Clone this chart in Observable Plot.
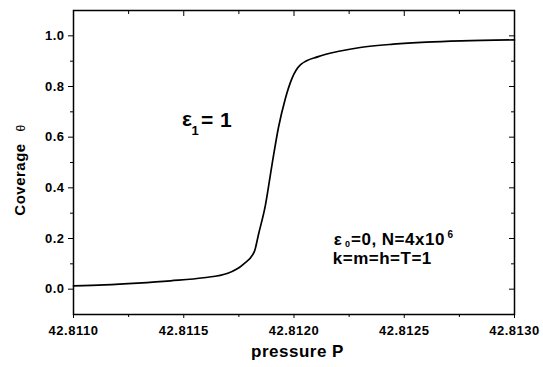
<!DOCTYPE html>
<html>
<head>
<meta charset="utf-8">
<script src="https://cdn.jsdelivr.net/npm/d3@7"></script>
<script src="https://cdn.jsdelivr.net/npm/@observablehq/plot@0.6"></script>
<style>
  html, body { margin: 0; padding: 0; background: #fff; }
  #chart svg { display: block; }
  #chart svg text { letter-spacing: 0.5px; }
</style>
</head>
<body>
<div id="chart"></div>
<script>
// Data
const pressure = [42.81100, 42.81114, 42.81129, 42.81144, 42.81159, 42.81170, 42.81177, 42.81182, 42.81184, 42.81187, 42.81190, 42.81193, 42.81196, 42.81199, 42.81203, 42.81211, 42.81221, 42.81230, 42.81245, 42.81260, 42.81276, 42.81300];
const coverage = [0.013, 0.017, 0.024, 0.033, 0.045, 0.063, 0.098, 0.148, 0.220, 0.330, 0.490, 0.640, 0.750, 0.830, 0.886, 0.918, 0.940, 0.954, 0.967, 0.975, 0.980, 0.984];

const xMajorTicks = [42.8110, 42.8115, 42.8120, 42.8125, 42.8130];
const xMinorTicks = [42.81125, 42.81175, 42.81225, 42.81275];
const yMajorTicks = [0.0, 0.2, 0.4, 0.6, 0.8, 1.0];
const yMinorTicks = [0.1, 0.3, 0.5, 0.7, 0.9];

const xTitle = "pressure P";
const yTitle = "Coverage";
const yTitleSymbol = "θ";

const data = pressure.map((p, i) => ({P: p, theta: coverage[i]}));

const font = "'Liberation Sans', Arial, Helvetica, sans-serif";
const blank = () => "";

const chart = Plot.plot({
  width: 543,
  height: 367,
  marginLeft: 73,
  marginRight: 29,
  marginTop: 10,
  marginBottom: 53,
  style: {fontFamily: font, fontWeight: "bold", fontSize: "13px", color: "#000", background: "#fff"},
  x: {domain: [42.8110, 42.8130]},
  y: {domain: [-0.1, 1.1]},
  marks: [
    // bottom axis (outward ticks)
    Plot.axisX(xMajorTicks, {anchor: "bottom", tickSize: 4, tickPadding: 7, tickFormat: d => d.toFixed(4), fontSize: 13, fontWeight: "bold", label: null}),
    Plot.axisX(xMinorTicks, {anchor: "bottom", tickSize: 3, tickFormat: blank, label: null}),
    // top axis (inward ticks)
    Plot.axisX(xMajorTicks, {anchor: "top", tickSize: -5, tickFormat: blank, label: null}),
    Plot.axisX(xMinorTicks, {anchor: "top", tickSize: -3, tickFormat: blank, label: null}),
    // left axis (outward ticks)
    Plot.axisY(yMajorTicks, {anchor: "left", tickSize: 5, tickPadding: 4, tickFormat: d => d.toFixed(1), fontSize: 13, fontWeight: "bold", label: null}),
    Plot.axisY(yMinorTicks, {anchor: "left", tickSize: 3, tickFormat: blank, label: null}),
    // right axis (inward ticks)
    Plot.axisY(yMajorTicks, {anchor: "right", tickSize: -6, tickFormat: blank, label: null}),
    Plot.axisY(yMinorTicks, {anchor: "right", tickSize: -4, tickFormat: blank, label: null}),
    Plot.frame({strokeWidth: 1.5}),
    // curve
    Plot.line(data, {x: "P", y: "theta", curve: "monotone-x", stroke: "#000", strokeWidth: 1.7}),
    // annotation: ε1 = 1
    Plot.text(["ε"], {x: [42.811492], y: [0.644], textAnchor: "start", lineAnchor: "bottom", fontSize: 21, fontWeight: "bold"}),
    Plot.text(["1"], {x: [42.811535], y: [0.607], textAnchor: "start", lineAnchor: "bottom", fontSize: 13, fontWeight: "bold"}),
    Plot.text(["= 1"], {x: [42.811578], y: [0.641], textAnchor: "start", lineAnchor: "bottom", fontSize: 21, fontWeight: "bold"}),
    // annotation: ε0=0, N=4x10^6 / k=m=h=T=1
    Plot.text(["ε"], {x: [42.8121805], y: [0.1725], textAnchor: "start", lineAnchor: "bottom", fontSize: 17, fontWeight: "bold"}),
    Plot.text(["0"], {x: [42.8122313], y: [0.167], textAnchor: "start", lineAnchor: "bottom", fontSize: 9, fontWeight: "bold"}),
    Plot.text(["=0, N=4x10"], {x: [42.8122585], y: [0.1725], textAnchor: "start", lineAnchor: "bottom", fontSize: 17, fontWeight: "bold"}),
    Plot.text(["6"], {x: [42.8126960], y: [0.203], textAnchor: "start", lineAnchor: "bottom", fontSize: 10, fontWeight: "bold"}),
    Plot.text(["k=m=h=T=1"], {x: [42.8121759], y: [0.0975], textAnchor: "start", lineAnchor: "bottom", fontSize: 17, fontWeight: "bold"}),
    // axis titles
    Plot.text([xTitle], {frameAnchor: "bottom", textAnchor: "middle", dx: 3.5, dy: 42, lineAnchor: "bottom", fontSize: 17, fontWeight: "bold"}),
    Plot.text([yTitle], {frameAnchor: "left", textAnchor: "middle", rotate: -90, dx: -48.5, dy: 17, lineAnchor: "bottom", fontSize: 15, fontWeight: "bold"}),
    Plot.text([yTitleSymbol], {frameAnchor: "left", textAnchor: "middle", rotate: -90, dx: -48.5, dy: -34.5, lineAnchor: "bottom", fontSize: 12, fontWeight: "normal"})
  ]
});

document.getElementById("chart").appendChild(chart);
</script>
</body>
</html>
